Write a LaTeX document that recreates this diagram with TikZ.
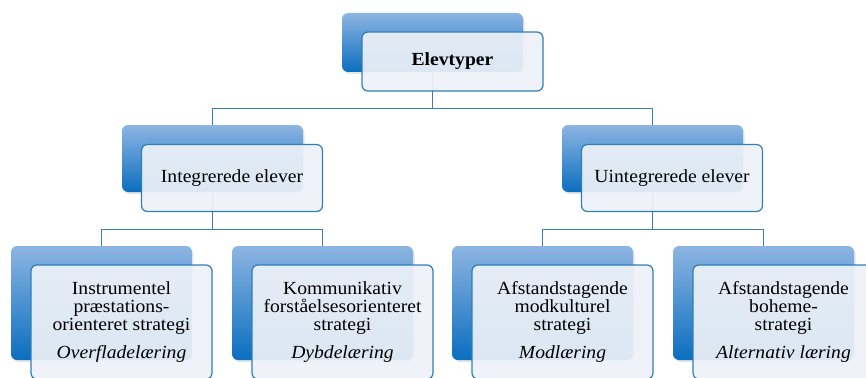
\documentclass[tikz,border=0pt]{standalone}
\usepackage{fontspec}
\setmainfont[FakeStretch=1.06]{Liberation Serif}
\usetikzlibrary{shadows,backgrounds}
\definecolor{bluetop}{HTML}{8DB5E2}
\definecolor{bluebot}{HTML}{0B6EBF}
\definecolor{frontline}{HTML}{2F7EB6}
\definecolor{frontfill}{HTML}{EEF2F8}
\definecolor{connline}{HTML}{3A80B4}
\tikzset{
  backbox/.style={rectangle, rounded corners=6pt, draw=none, top color=bluetop, bottom color=bluebot,
    drop shadow={opacity=0.2, shadow xshift=1.5pt, shadow yshift=-2pt},
    minimum width=181pt, inner sep=0pt},
  frontbox/.style={rectangle, rounded corners=6pt, draw=frontline, line width=1.2pt, fill=frontfill,
    fill opacity=0.92, text opacity=1, minimum width=181pt, inner sep=0pt, align=center,
    font=\fontsize{18.5}{18}\selectfont},
  conn/.style={draw=connline, line width=1.3pt}
}
\begin{document}
\begin{tikzpicture}[x=1pt,y=-1pt]
\useasboundingbox (0,0) rectangle (866,377);
% top
\node[backbox, minimum height=59pt] (tbk) at (432.5,42.5) {};
\node[frontbox, minimum height=59pt] (tfr) at (452.5,61.5) {\textbf{Elevtyper}};
% middle
\node[backbox, minimum height=67pt] (mlbk) at (212.5,158.5) {};
\node[frontbox, minimum height=67pt] (mlfr) at (232,178) {Integrerede elever};
\node[backbox, minimum height=67pt] (mrbk) at (652.5,158.5) {};
\node[frontbox, minimum height=67pt] (mrfr) at (672,178) {Uintegrerede elever};
% bottom
\node[backbox, minimum height=114pt] (b1bk) at (101.5,303) {};
\node[frontbox, minimum height=114pt] (b1fr) at (121.5,322) {Instrumentel\\præstations-\\orienteret strategi\\[10pt]\textit{Overfladelæring}};
\node[backbox, minimum height=114pt] (b2bk) at (322.5,303) {};
\node[frontbox, minimum height=114pt] (b2fr) at (342.5,322) {Kommunikativ\\forståelsesorienteret\\strategi\\[10pt]\textit{Dybdelæring}};
\node[backbox, minimum height=114pt] (b3bk) at (542.5,303) {};
\node[frontbox, minimum height=114pt] (b3fr) at (562.5,322) {Afstandstagende\\modkulturel\\strategi\\[10pt]\textit{Modlæring}};
\node[backbox, minimum height=114pt] (b4bk) at (763.5,303) {};
\node[frontbox, minimum height=114pt] (b4fr) at (783.5,322) {Afstandstagende\\boheme-\\strategi\\[10pt]\textit{Alternativ læring}};
% connectors
\begin{scope}[on background layer]
\draw[conn] (tbk.south) -- ++(0,36) -| (mlbk.north);
\draw[conn] (tbk.south) -- ++(0,36) -| (mrbk.north);
\draw[conn] (mlbk.south) -- ++(0,37) -| (b1bk.north);
\draw[conn] (mlbk.south) -- ++(0,37) -| (b2bk.north);
\draw[conn] (mrbk.south) -- ++(0,37) -| (b3bk.north);
\draw[conn] (mrbk.south) -- ++(0,37) -| (b4bk.north);
\end{scope}
\end{tikzpicture}
\end{document}
